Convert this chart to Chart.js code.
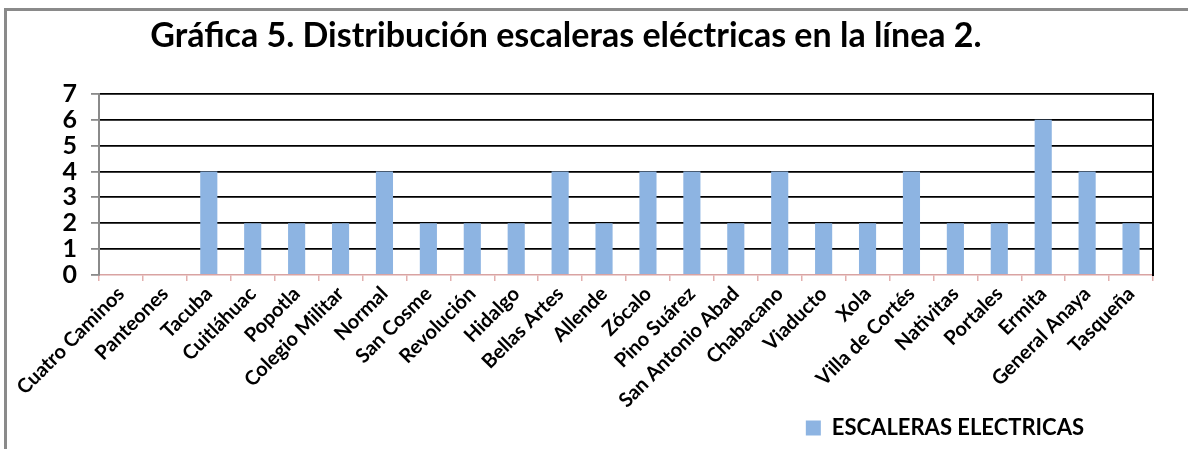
<!DOCTYPE html>
<html>
<head>
<meta charset="utf-8">
<script src="https://cdn.jsdelivr.net/npm/chart.js@4.4.1/dist/chart.umd.min.js"></script>
<style>
  html, body { margin: 0; padding: 0; background: #fff; }
  #frame { position: absolute; left: 4px; top: 8px; width: 1184px; height: 441px;
           border-left: 3px solid #8a8a8a; border-top: 3px solid #8a8a8a; }
  #wrap { position: absolute; left: 0; top: 0; width: 1181px; height: 438px; }
</style>
</head>
<body>
<div id="frame"><div id="wrap"><canvas id="c"></canvas></div></div>
<script>
const titleText = "Gráfica 5. Distribución escaleras eléctricas en la línea 2.";
const seriesName = "ESCALERAS ELECTRICAS";
const stations = ["Cuatro Caminos","Panteones","Tacuba","Cuitláhuac","Popotla","Colegio Militar",
  "Normal","San Cosme","Revolución","Hidalgo","Bellas Artes","Allende","Zócalo","Pino Suárez",
  "San Antonio Abad","Chabacano","Viaducto","Xola","Villa de Cortés","Nativitas","Portales",
  "Ermita","General Anaya","Tasqueña"];
const escaleras = [0,0,4,2,2,2,4,2,2,2,4,2,4,4,2,4,2,2,4,2,2,6,4,2];
const yMin = 0, yMax = 7, yStep = 1;

const FONT = "Lato, 'Open Sans', sans-serif";

const shiftPlugin = {
  id: 'shiftBoxes',
  afterLayout(chart) {
    const t = chart.titleBlock;
    if (t) { const c = 559, half = (t.right - t.left) / 2; t.left = c - half; t.right = c + half; }
    const lg = chart.legend;
    if (lg) { const d = 1082 - lg.right; lg.left += d; lg.right += d; }
  }
};

new Chart(document.getElementById('c'), {
  type: 'bar',
  data: {
    labels: stations,
    datasets: [{
      label: seriesName,
      data: escaleras,
      backgroundColor: '#8DB4E2',
      borderWidth: 0,
      barPercentage: 0.78,
      categoryPercentage: 0.5
    }]
  },
  options: {
    responsive: true,
    maintainAspectRatio: false,
    animation: false,
    layout: { padding: { left: 0, right: 0, top: 0, bottom: 0 } },
    plugins: {
      title: {
        display: true,
        text: titleText,
        color: '#000',
        font: { family: FONT, size: 34, weight: 'bold', lineHeight: 1.2 },
        padding: { top: 5, bottom: 37 }
      },
      legend: {
        display: true,
        position: 'bottom',
        align: 'end',
        labels: {
          color: '#000',
          font: { family: FONT, size: 22, weight: 'bold' },
          boxWidth: 15, boxHeight: 15, padding: 5
        }
      },
      tooltip: { enabled: false }
    },
    scales: {
      x: {
        offset: true,
        grid: {
          offset: true,
          drawOnChartArea: false,
          drawTicks: true,
          tickLength: 6,
          color: '#E3AFAE',
          lineWidth: 1.5
        },
        border: { display: true, color: '#D9A3A2', width: 1.5 },
        ticks: {
          color: '#000',
          autoSkip: false,
          minRotation: 45, maxRotation: 45,
          padding: 1,
          font: { family: FONT, size: 20, weight: 'bold' }
        },
        afterFit(s) { s.height = 137; }
      },
      y: {
        min: yMin, max: yMax,
        ticks: {
          stepSize: yStep,
          autoSkip: false,
          color: '#000',
          padding: 14,
          font: { family: FONT, size: 25, weight: 'bold' }
        },
        grid: {
          color: (c) => (c.tick && c.tick.value === 0) ? 'rgba(0,0,0,0)' : '#000',
          tickColor: '#8a8a8a',
          lineWidth: 1.8,
          tickLength: 8
        },
        border: { display: true, color: '#8a8a8a', width: 2 },
        afterFit(s) { s.width = 92; }
      },
      y2: {
        position: 'right',
        min: yMin, max: yMax,
        ticks: { display: false },
        grid: { display: false, drawTicks: false },
        border: { display: true, color: '#000', width: 2 },
        afterFit(s) { s.width = 35; }
      }
    }
  },
  plugins: [shiftPlugin]
});
</script>
</body>
</html>
